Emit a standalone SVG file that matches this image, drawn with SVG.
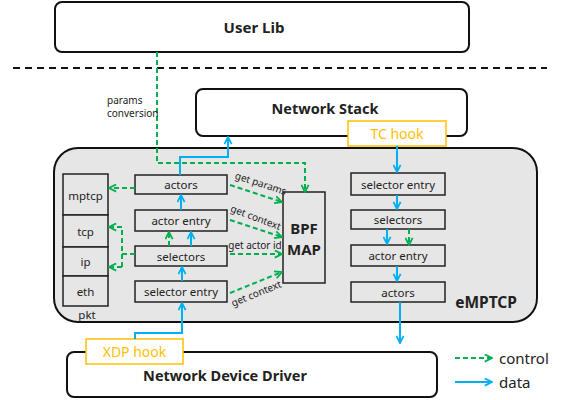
<svg xmlns="http://www.w3.org/2000/svg" width="569" height="400" viewBox="0 0 569 400">
<defs>
<style>
text{font-family:"Noto Sans","Open Sans","DejaVu Sans",sans-serif;fill:#222}
.big{fill:#fff;stroke:#111;stroke-width:2}
.box{fill:#e7e6e6;stroke:#222;stroke-width:1.5}
.hook{fill:#fff;stroke:#FFC000;stroke-width:1.5}
.ht{fill:#FFC000;font-size:14px}
.bt{font-size:14.5px;font-weight:bold}
.lt{font-size:11.5px}
.st{font-size:10px}
.blue{fill:none;stroke:#00B0F0;stroke-width:2;marker-end:url(#ab)}
.green{fill:none;stroke:#00B050;stroke-width:2;stroke-dasharray:5 3;marker-end:url(#ag)}
.green0{fill:none;stroke:#00B050;stroke-width:2;stroke-dasharray:5 3}
</style>
<marker id="ab" viewBox="0 0 10 10" refX="9" refY="5" markerWidth="9" markerHeight="9" markerUnits="userSpaceOnUse" orient="auto"><path d="M1,1 L9,5 L1,9" fill="none" stroke="#00B0F0" stroke-width="2"/></marker>
<marker id="ag" viewBox="0 0 10 10" refX="9" refY="5" markerWidth="9" markerHeight="9" markerUnits="userSpaceOnUse" orient="auto"><path d="M1,1 L9,5 L1,9" fill="none" stroke="#00B050" stroke-width="2"/></marker>
</defs>
<rect width="569" height="400" fill="#fff"/>

<g id="user-lib"><rect class="big" x="55" y="2" width="414" height="50" rx="7"/><text class="bt" x="254" y="27" text-anchor="middle" dominant-baseline="central" style="font-size:15px">User Lib</text></g>
<line x1="13" y1="68" x2="547" y2="68" stroke="#111" stroke-width="2" stroke-dasharray="7 5"/>

<g id="emptcp"><rect x="54" y="148" width="483" height="174" rx="24" fill="#e7e6e6" stroke="#111" stroke-width="2"/><text class="bt" x="486" y="302" text-anchor="middle" dominant-baseline="central" style="font-size:15.5px">eMPTCP</text></g>

<g id="network-stack"><rect class="big" x="196" y="89" width="271" height="47" rx="7"/><text class="bt" x="325" y="108" text-anchor="middle" dominant-baseline="central">Network Stack</text></g>
<g id="tc-hook"><rect class="hook" x="348" y="121" width="98" height="25"/><text class="ht" x="397" y="133.5" text-anchor="middle" dominant-baseline="central">TC hook</text></g>

<g id="ndd"><rect class="big" x="67" y="352" width="370" height="45" rx="7"/><text class="bt" x="225" y="375" text-anchor="middle" dominant-baseline="central">Network Device Driver</text></g>
<g id="xdp-hook"><rect class="hook" x="86" y="339" width="97" height="25"/><text class="ht" x="134.5" y="351.5" text-anchor="middle" dominant-baseline="central">XDP hook</text></g>

<g id="pkt">
<rect class="box" x="63" y="174" width="45" height="41"/><text class="lt" x="85.5" y="195" text-anchor="middle" dominant-baseline="central">mptcp</text>
<rect class="box" x="63" y="215" width="45" height="32"/><text class="lt" x="85.5" y="231" text-anchor="middle" dominant-baseline="central">tcp</text>
<rect class="box" x="63" y="247" width="45" height="29"/><text class="lt" x="85.5" y="261.5" text-anchor="middle" dominant-baseline="central">ip</text>
<rect class="box" x="63" y="276" width="45" height="30"/><text class="lt" x="85.5" y="291" text-anchor="middle" dominant-baseline="central">eth</text>
<text class="lt" x="87" y="314" text-anchor="middle" dominant-baseline="central">pkt</text>
</g>

<g id="l-actors"><rect class="box" x="135" y="175" width="92" height="19"/><text class="lt" x="181" y="184.5" text-anchor="middle" dominant-baseline="central">actors</text></g>
<g id="l-actor-entry"><rect class="box" x="135" y="210" width="92" height="21"/><text class="lt" x="181" y="220.5" text-anchor="middle" dominant-baseline="central">actor entry</text></g>
<g id="l-selectors"><rect class="box" x="135" y="246" width="92" height="20"/><text class="lt" x="181" y="256" text-anchor="middle" dominant-baseline="central">selectors</text></g>
<g id="l-selector-entry"><rect class="box" x="135" y="281" width="92" height="21"/><text class="lt" x="181" y="291.5" text-anchor="middle" dominant-baseline="central">selector entry</text></g>

<g id="bpf-map"><rect class="box" x="283" y="192" width="42" height="91"/><text class="bt" x="304" y="228" text-anchor="middle" dominant-baseline="central" style="font-size:15px">BPF</text><text class="bt" x="304" y="249" text-anchor="middle" dominant-baseline="central" style="font-size:15px">MAP</text></g>

<g id="r-selector-entry"><rect class="box" x="351" y="173" width="94" height="22"/><text class="lt" x="398" y="184" text-anchor="middle" dominant-baseline="central">selector entry</text></g>
<g id="r-selectors"><rect class="box" x="351" y="210" width="94" height="19"/><text class="lt" x="398" y="219.5" text-anchor="middle" dominant-baseline="central">selectors</text></g>
<g id="r-actor-entry"><rect class="box" x="351" y="245" width="94" height="21"/><text class="lt" x="398" y="255.5" text-anchor="middle" dominant-baseline="central">actor entry</text></g>
<g id="r-actors"><rect class="box" x="351" y="282" width="94" height="20"/><text class="lt" x="398" y="292" text-anchor="middle" dominant-baseline="central">actors</text></g>

<g id="legend">
<line class="green" x1="455" y1="358" x2="492" y2="358"/><text x="499" y="358" dominant-baseline="central" style="font-size:15px">control</text>
<line class="blue" x1="455" y1="382" x2="492" y2="382"/><text x="499" y="382" dominant-baseline="central" style="font-size:15px">data</text>
</g>

<g id="connectors">
<polyline class="green" points="157,52 157,163 305,163 305,192"/>
<text class="st" x="107" y="104">params</text>
<text class="st" x="107" y="117">conversion</text>
<line class="green" x1="135" y1="188" x2="109" y2="188"/>
<line class="green0" x1="135" y1="254" x2="122" y2="254"/>
<polyline class="green" points="122,267 122,227 109,227"/>
<line class="green" x1="122" y1="267" x2="109" y2="267"/>
<line class="green" x1="169" y1="246" x2="169" y2="232"/>
<line class="green" x1="230" y1="185" x2="282" y2="202"/>
<text class="st" transform="translate(261,183) rotate(18)" text-anchor="middle" dominant-baseline="central">get params</text>
<line class="green" x1="230" y1="220" x2="282" y2="237"/>
<text class="st" transform="translate(256,217) rotate(21)" text-anchor="middle" dominant-baseline="central">get context</text>
<line class="green" x1="230" y1="254" x2="282" y2="254"/>
<text class="st" x="255" y="245" text-anchor="middle" dominant-baseline="central">get actor id</text>
<line class="green" x1="230" y1="293" x2="282" y2="272"/>
<text class="st" transform="translate(256,293) rotate(-22)" text-anchor="middle" dominant-baseline="central">get context</text>
<line class="green" x1="409" y1="229" x2="409" y2="245"/>
<polyline class="blue" points="135,339 135,333 182,333 182,303"/>
<line class="blue" x1="182" y1="281" x2="182" y2="267"/>
<line class="blue" x1="191" y1="246" x2="191" y2="232"/>
<line class="blue" x1="181" y1="210" x2="181" y2="195"/>
<polyline class="blue" points="180,175 180,157 228,157 228,137"/>
<line class="blue" x1="397" y1="146" x2="397" y2="172"/>
<line class="blue" x1="397" y1="195" x2="397" y2="209"/>
<line class="blue" x1="387" y1="229" x2="387" y2="244"/>
<line class="blue" x1="397" y1="266" x2="397" y2="281"/>
<line class="blue" x1="400" y1="302" x2="400" y2="343"/>
</g>
</svg>
